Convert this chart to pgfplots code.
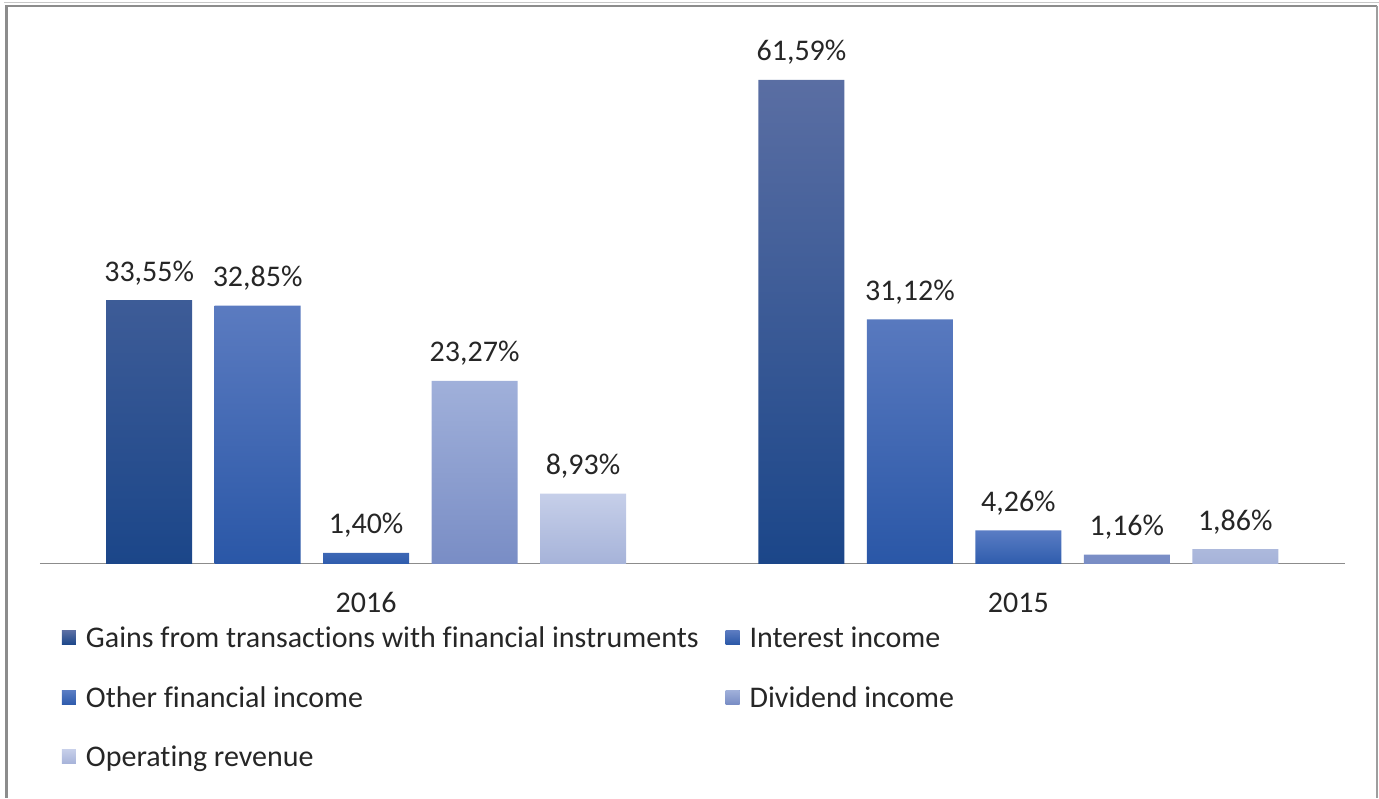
\documentclass[border=0pt]{standalone}
\usepackage{fontspec}
\setmainfont{Carlito}[Ligatures={NoCommon,NoRare}]
\usepackage{pgfplots}
\pgfplotsset{compat=1.18}
\definecolor{txt}{HTML}{262626}
\definecolor{axl}{HTML}{8C8C8C}
% bar gradients, top and bottom
\definecolor{gaT}{HTML}{5A6EA3}\definecolor{gaB}{HTML}{1B4689}
\definecolor{inT}{HTML}{5B7BC0}\definecolor{inB}{HTML}{2A57A7}
\definecolor{otT}{HTML}{5A7DC4}\definecolor{otB}{HTML}{2F5CAD}
\definecolor{dvT}{HTML}{A0B0DA}\definecolor{dvB}{HTML}{798DC5}
\definecolor{opT}{HTML}{C6CFE9}\definecolor{opB}{HTML}{A6B3D9}
% legend squares
\definecolor{gaL}{HTML}{1F4A8A}
\definecolor{inL}{HTML}{2F5AAA}
\definecolor{otL}{HTML}{3561B5}
\definecolor{dvL}{HTML}{8497CC}
\definecolor{opL}{HTML}{B8C3E2}
\begin{document}
\begin{tikzpicture}
\begin{axis}[
  at={(0,0)}, anchor=south west,
  scale only axis, width=1305bp, height=510.9bp,
  xmin=-0.5, xmax=1.5, ymin=0, ymax=65,
  ybar=22.5bp, bar width=86bp,
  axis x line*=bottom, axis y line=none,
  x axis line style={draw=axl, line width=1.3bp},
  xtick={0,1}, xticklabels={2016,2015}, major tick length=0pt,
  xticklabel style={anchor=base, yshift=-48.5bp, text=txt},
  font=\fontsize{30bp}{36bp}\selectfont,
  clip=false,
  nodes near coords={\pgfmathprintnumber[assume math mode=true,fixed,fixed zerofill,precision=2,use comma]{\pgfplotspointmeta}\%},
  every node near coord/.append style={anchor=base, yshift=19bp, text=txt, inner sep=0pt},
  legend columns=2, legend cell align=left,
  legend style={draw=none, fill=none, at={(0,0)}, anchor=north west,
    xshift=22bp, yshift=-63bp, inner sep=0pt, outer sep=0pt, row sep=31.5bp,
    font=\fontsize{30bp}{36bp}\selectfont, text=txt,
    nodes={inner sep=0pt, text height=21bp, text depth=7bp},
    /tikz/every odd column/.append style={column sep=10bp},
    /tikz/every even column/.append style={column sep=27bp}},
]
\addplot[draw=none, top color=gaT, bottom color=gaB,
  legend image code/.code={\fill[gaL] (0bp,-4bp) rectangle (14bp,10bp);}]
  coordinates {(0,33.55) (1,61.59)};
\addplot[draw=none, top color=inT, bottom color=inB,
  legend image code/.code={\fill[inL] (0bp,-4bp) rectangle (14bp,10bp);}]
  coordinates {(0,32.85) (1,31.12)};
\addplot[draw=none, top color=otT, bottom color=otB,
  legend image code/.code={\fill[otL] (0bp,-4bp) rectangle (14bp,10bp);}]
  coordinates {(0,1.40) (1,4.26)};
\addplot[draw=none, top color=dvT, bottom color=dvB,
  legend image code/.code={\fill[dvL] (0bp,-4bp) rectangle (14bp,10bp);}]
  coordinates {(0,23.27) (1,1.16)};
\addplot[draw=none, top color=opT, bottom color=opB,
  legend image code/.code={\fill[opL] (0bp,-4bp) rectangle (14bp,10bp);}]
  coordinates {(0,8.93) (1,1.86)};
\legend{Gains from transactions with financial instruments, Interest income,
  Other financial income, Dividend income, Operating revenue}
\end{axis}
% chart frame
\draw[black!22, line width=1bp] (-36bp,561.5bp) -- (1339bp,561.5bp);
\draw[black!45, line width=2.5bp] (-33.5bp,-234bp) -- (-33.5bp,558bp) -- (1337.5bp,558bp);
\draw[black!38, line width=1.5bp] (1337.5bp,558bp) -- (1337.5bp,-234bp);
\path[use as bounding box] (-40bp,-234bp) rectangle (1339bp,564bp);
\end{tikzpicture}
\end{document}
